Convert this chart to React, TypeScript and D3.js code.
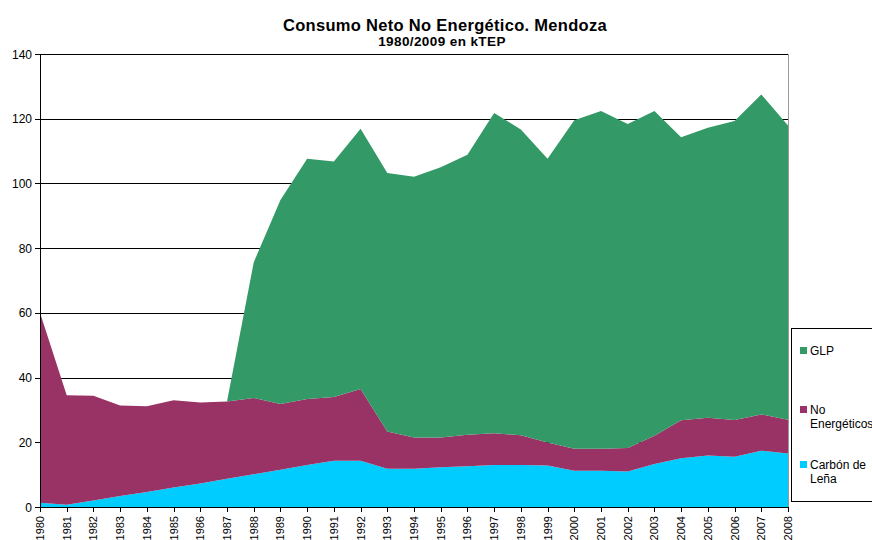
import React from "react";
import * as d3 from "d3";

const years: string[] = d3.range(1980, 2009).map(String);
const carbonLena: number[] = [1.3, 0.7, 2.0, 3.4, 4.6, 6.0, 7.3, 8.7, 10.1, 11.5, 13.0, 14.3, 14.3, 11.8, 11.8, 12.3, 12.6, 13.0, 13.0, 12.8, 11.2, 11.2, 11.0, 13.3, 15.1, 15.9, 15.5, 17.4, 16.5];
const noEnergeticos: number[] = [58.7, 33.8, 32.4, 28.0, 26.5, 27.0, 25.0, 23.9, 23.6, 20.3, 20.4, 19.7, 22.2, 11.5, 9.7, 9.2, 9.7, 9.8, 9.2, 7.1, 6.8, 6.8, 7.2, 8.7, 11.7, 11.7, 11.4, 11.2, 10.5];
const glp: number[] = [0, 0, 0, 0, 0, 0, 0, 0, 41.9, 63.1, 74.2, 72.8, 80.4, 79.9, 80.6, 83.5, 86.6, 99.0, 94.5, 87.7, 101.5, 104.4, 100.2, 100.4, 87.5, 89.6, 92.4, 98.9, 90.9];
const yTicks: number[] = [0, 20, 40, 60, 80, 100, 120, 140];

const seriesKeys = ["carbon", "noEnerg", "glp"];
const seriesColors: Record<string, string> = { carbon: "#00CCFF", noEnerg: "#993366", glp: "#339966" };

const FONT = "'Liberation Sans', Arial, sans-serif";

export default function App() {
  const W = 872, H = 540;
  const x0 = 40, x1 = 788, yTop = 54, yBot = 507;

  const rows = years.map((yr, i) => ({ year: yr, carbon: carbonLena[i], noEnerg: noEnergeticos[i], glp: glp[i] }));
  const stack = d3.stack<any>().keys(seriesKeys);
  const stacked = stack(rows);

  const x = d3.scalePoint<string>().domain(years).range([x0, x1]);
  const y = d3.scaleLinear().domain([0, 140]).range([yBot, yTop]);

  const area = d3
    .area<any>()
    .x((d: any) => x(d.data.year) as number)
    .y0((d: any) => y(d[0]))
    .y1((d: any) => y(d[1]))
    .curve(d3.curveLinear);

  const legendItems = [
    { key: "glp", lines: ["GLP"], y: 355 },
    { key: "noEnerg", lines: ["No", "Energéticos"], y: 414 },
    { key: "carbon", lines: ["Carbón de", "Leña"], y: 469 },
  ];

  return (
    <div style={{ position: "absolute", left: 0, top: 0 }}>
      <svg width={W} height={H} style={{ display: "block", background: "#fff" }} fontFamily={FONT}>
        <rect x={0} y={0} width={W} height={H} fill="#fff" />
        <text x={445} y={31} textAnchor="middle" fontSize={16.5} fontWeight="bold" fill="#000" letterSpacing={0.3}>
          Consumo Neto No Energético. Mendoza
        </text>
        <text x={442} y={46} textAnchor="middle" fontSize={13.5} fontWeight="bold" fill="#000" letterSpacing={0.4}>
          1980/2009 en kTEP
        </text>

        {/* gridlines */}
        {yTicks.filter((t) => t > 0).map((t) => (
          <line key={"g" + t} x1={x0} x2={x1} y1={Math.round(y(t)) + 0.5} y2={Math.round(y(t)) + 0.5} stroke="#000" strokeWidth={1} />
        ))}

        {/* areas */}
        {stacked.map((s) => (
          <path key={s.key} d={area(s as any) || ""} fill={seriesColors[s.key]} stroke="none" />
        ))}

        {/* right border */}
        <line x1={x1 + 0.5} x2={x1 + 0.5} y1={yTop} y2={yBot} stroke="#999" strokeWidth={1} />

        {/* y axis */}
        <line x1={x0 + 0.5} x2={x0 + 0.5} y1={yTop} y2={yBot} stroke="#000" strokeWidth={1} />
        {yTicks.map((t) => (
          <g key={"yt" + t}>
            <line x1={x0 - 5} x2={x0} y1={Math.round(y(t)) + 0.5} y2={Math.round(y(t)) + 0.5} stroke="#000" />
            <text x={32} y={y(t) + 4.5} textAnchor="end" fontSize={12} fill="#000">
              {t}
            </text>
          </g>
        ))}

        {/* x axis */}
        <line x1={x0} x2={x1 + 1} y1={yBot + 0.5} y2={yBot + 0.5} stroke="#000" strokeWidth={1} />
        {years.map((yr) => {
          const px = Math.round(x(yr) as number) + 0.5;
          return (
            <g key={"xt" + yr}>
              <line x1={px} x2={px} y1={yBot} y2={yBot + 5} stroke="#000" />
              <text
                transform={`translate(${(x(yr) as number) + 4},${yBot + 9}) rotate(-90)`}
                textAnchor="end"
                fontSize={11}
                fill="#000"
              >
                {yr}
              </text>
            </g>
          );
        })}

        {/* legend */}
        <rect x={791.5} y={328.5} width={100} height={173} fill="#fff" stroke="#000" strokeWidth={1} />
        {legendItems.map((it) => (
          <g key={"lg" + it.key}>
            <rect x={800} y={it.y - 8} width={7} height={7} fill={seriesColors[it.key]} />
            {it.lines.map((ln, j) => (
              <text key={j} x={810} y={it.y + j * 13.5} fontSize={12} fill="#000">
                {ln}
              </text>
            ))}
          </g>
        ))}
      </svg>
    </div>
  );
}
